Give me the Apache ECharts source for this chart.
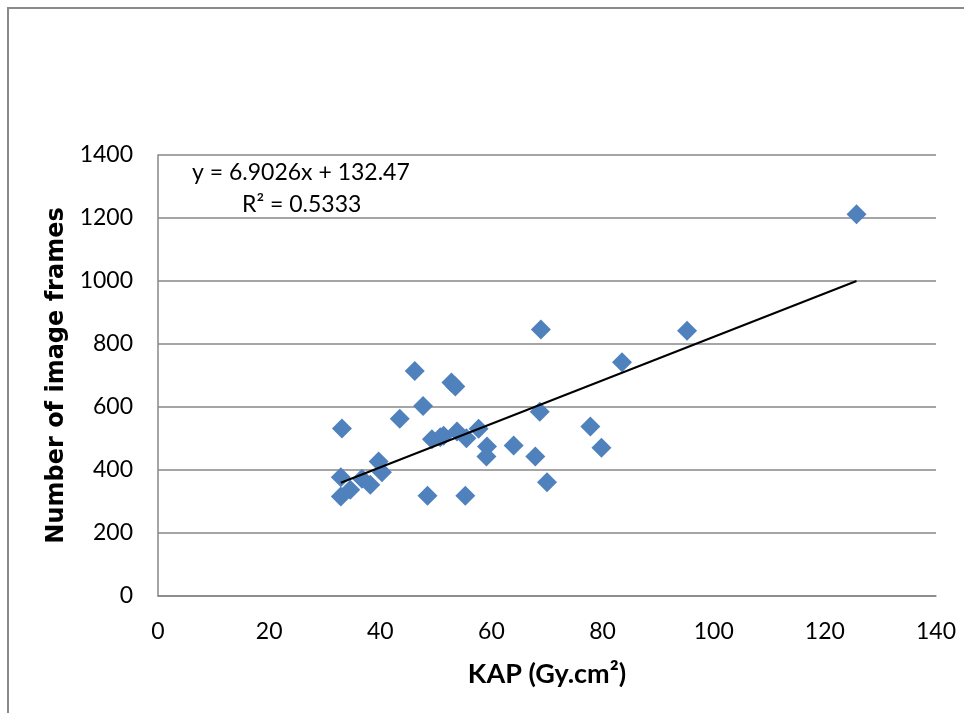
<!DOCTYPE html>
<html>
<head>
<meta charset="utf-8">
<script src="https://cdn.jsdelivr.net/npm/echarts@6/dist/echarts.min.js"></script>
<style>
  html, body { margin: 0; padding: 0; background: #fff; }
  #chart { width: 964px; height: 713px; }
</style>
</head>
<body>
<div id="chart"></div>
<script>
// KAP (Gy.cm²) vs number of image frames
const kap = [125.7, 95.2, 68.9, 83.5, 46.2, 52.8, 53.5, 47.7, 68.7, 43.5,
  33.1, 77.8, 49.3, 50.8, 51.4, 53.8, 55.5, 57.7, 59.2, 59.1,
  64.0, 67.9, 79.8, 70.0, 39.7, 40.3, 32.9, 36.7, 38.2, 32.9,
  34.6, 48.5, 55.3]
const frames = [1212, 842, 846, 742, 714, 678, 665, 603, 585, 563,
  532, 538, 498, 504, 509, 522, 501, 531, 475, 443,
  478, 443, 471, 361, 427, 393, 377, 372, 353, 316,
  337, 318, 318]
// trend line as printed on the chart
const slope = 6.9026
const intercept = 132.47
const rSquared = '0.5333'
const xTicks = [0, 140, 20]
const yTicks = [0, 1400, 200]

const chart = echarts.init(document.getElementById('chart'))

const points = kap.map((x, i) => [x, frames[i]])
const xMin = Math.min(...kap)
const xMax = Math.max(...kap)
const trend = [[xMin, slope * xMin + intercept], [xMax, slope * xMax + intercept]]

const gridColor = '#878787'
const textFont = 'Lato, "Open Sans", sans-serif'

const option = {
  animation: false,
  backgroundColor: '#fff',
  grid: { left: 158, right: 28, top: 155, bottom: 117 },
  graphic: [
    {
      type: 'rect',
      shape: { x: 8, y: 8, width: 980, height: 740 },
      style: { fill: 'none', stroke: '#8a8a8a', lineWidth: 2 },
      silent: true
    },
    {
      type: 'text',
      left: 192,
      top: 161,
      style: {
        text: 'y = ' + slope + 'x + ' + intercept,
        font: '23px ' + textFont,
        fill: '#000'
      }
    },
    {
      type: 'text',
      left: 242,
      top: 193,
      style: {
        text: 'R² = ' + rSquared,
        font: '23px ' + textFont,
        fill: '#000'
      }
    }
  ],
  xAxis: {
    type: 'value',
    min: xTicks[0],
    max: xTicks[1],
    interval: xTicks[2],
    name: 'KAP (Gy.cm²)',
    nameLocation: 'middle',
    nameGap: 65,
    nameTextStyle: { fontFamily: textFont, fontWeight: 'bold', fontSize: 27, color: '#000' },
    axisLine: { show: true, lineStyle: { color: gridColor, width: 1.5 } },
    axisTick: { show: false },
    splitLine: { show: false },
    axisLabel: { fontFamily: textFont, fontSize: 23, color: '#000', margin: 24 }
  },
  yAxis: {
    type: 'value',
    min: yTicks[0],
    max: yTicks[1],
    interval: yTicks[2],
    name: 'Number of image frames',
    nameLocation: 'middle',
    nameGap: 86,
    nameTextStyle: { fontFamily: '"DejaVu Sans", sans-serif', fontWeight: 'bold', fontSize: 24, color: '#000' },
    axisLine: { show: true, lineStyle: { color: gridColor, width: 1.5 } },
    axisTick: { show: false },
    splitLine: { show: true, lineStyle: { color: gridColor, width: 1.5 } },
    axisLabel: { fontFamily: textFont, fontSize: 23, color: '#000', margin: 25, formatter: (v) => String(v) }
  },
  series: [
    {
      type: 'scatter',
      data: points,
      symbol: 'diamond',
      symbolSize: 20,
      itemStyle: { color: '#4F81BD', opacity: 1 },
      z: 3
    },
    {
      type: 'line',
      data: trend,
      symbol: 'none',
      lineStyle: { color: '#000', width: 2 },
      z: 4
    }
  ]
}

chart.setOption(option)
</script>
</body>
</html>
